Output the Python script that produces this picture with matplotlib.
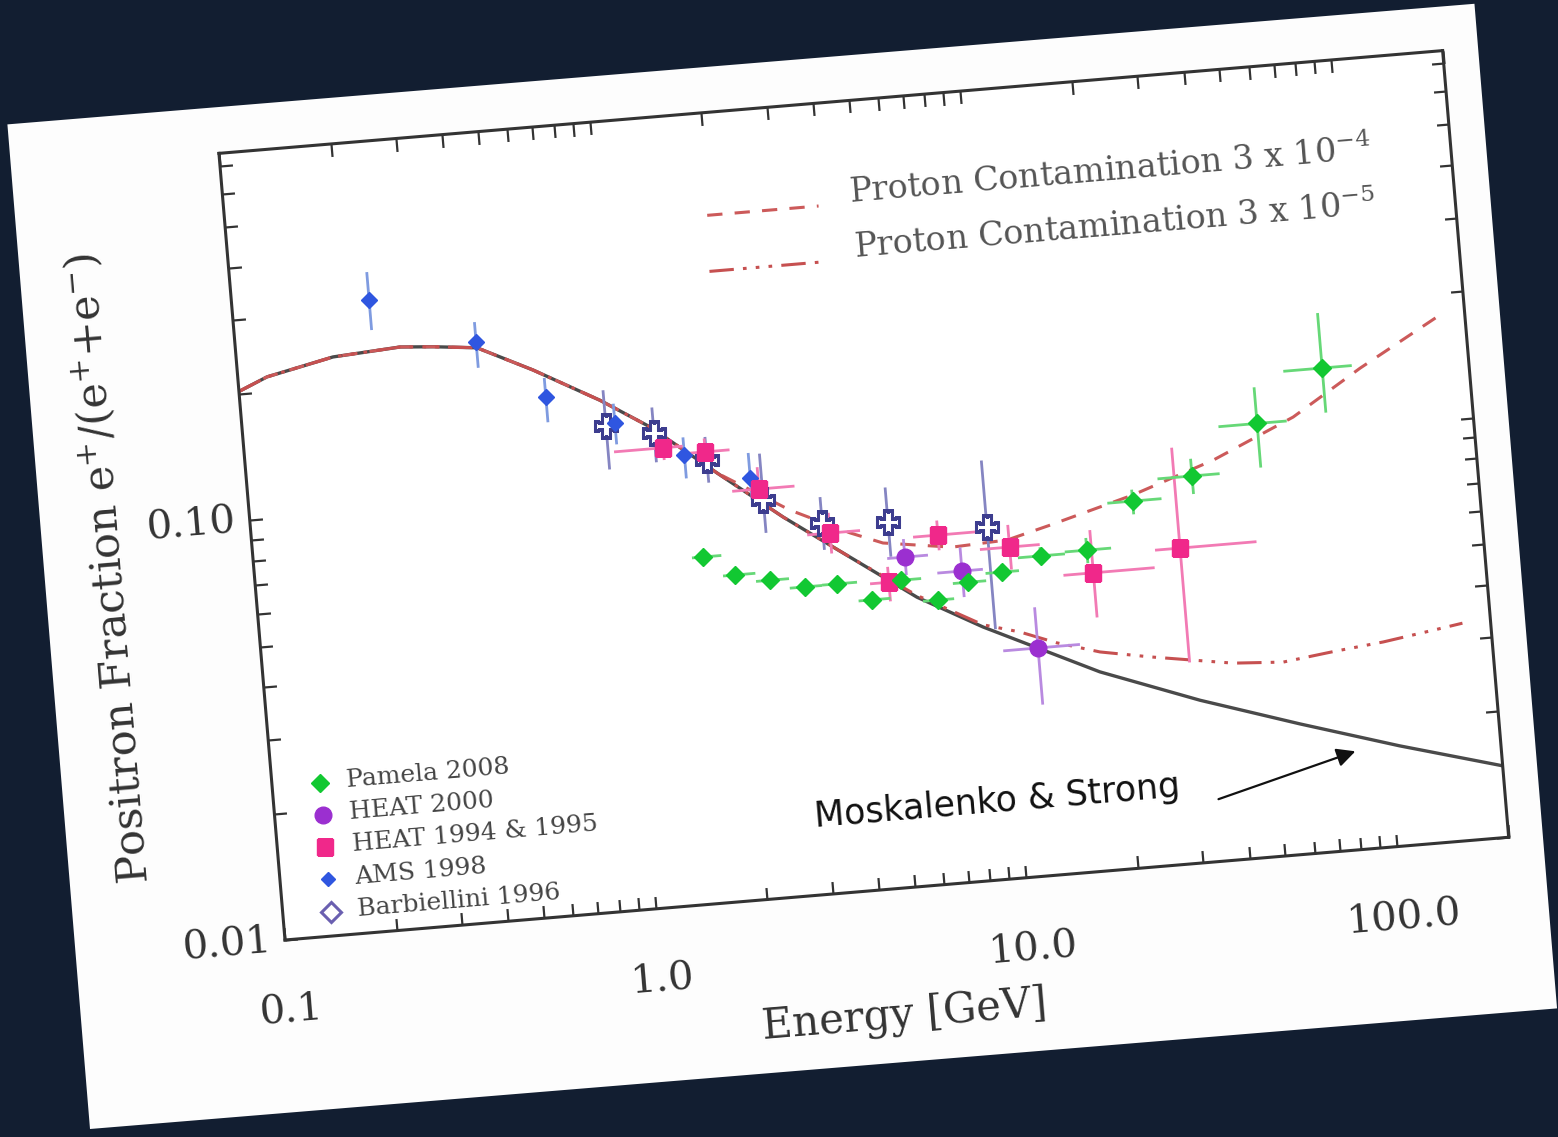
import matplotlib.pyplot as plt
import numpy as np
from matplotlib.patches import Rectangle
from matplotlib.scale import LogTransform
from matplotlib.transforms import Affine2D, blended_transform_factory
import mpl_toolkits.axisartist.floating_axes as floating_axes
from mpl_toolkits.axisartist.grid_finder import FixedLocator, DictFormatter

plt.rcParams['mathtext.fontset'] = 'dejavuserif'

# --- data ----------------------------------------------------------------
# Moskalenko & Strong model (solid)
model_e = [0.1, 0.1198, 0.1818, 0.2764, 0.339, 0.444, 0.620, 0.923, 1.24,
           1.83, 2.69, 3.98, 5.89, 8.72, 17.5, 32.0, 58.6, 107, 200]
model_f = [0.203, 0.217, 0.2347, 0.2403, 0.237, 0.231, 0.1995, 0.164, 0.1386,
           0.1046, 0.0798, 0.0622, 0.0485, 0.040, 0.0297, 0.0243, 0.0204,
           0.0173, 0.0148]

# proton contamination 3e-4 (dashed)
p4_e = [0.1, 0.1198, 0.1818, 0.2764, 0.339, 0.444, 0.620, 0.923, 1.24, 1.83,
        2.81, 4.03, 4.91, 7.50, 10.6, 13.9, 23.5, 39.3, 65.8, 102, 172]
p4_f = [0.203, 0.217, 0.2347, 0.2403, 0.237, 0.231, 0.1995, 0.164, 0.1386,
        0.1046, 0.0827, 0.0710, 0.0662, 0.0627, 0.0636, 0.0676, 0.0767,
        0.0894, 0.109, 0.138, 0.178]

# proton contamination 3e-5 (dash-dot-dot)
p5_e = [0.1, 0.1198, 0.1818, 0.2764, 0.339, 0.444, 0.620, 0.923, 1.24, 1.83,
        2.69, 3.98, 5.89, 8.72, 10.9, 13.6, 17.7, 24.0, 40.0, 54.5, 74.5,
        102, 140, 168]
p5_f = [0.203, 0.217, 0.2347, 0.2403, 0.237, 0.231, 0.1995, 0.164, 0.1386,
        0.1046, 0.0798, 0.0622, 0.0490, 0.0405, 0.0383, 0.0355, 0.0331,
        0.0315, 0.0293, 0.0288, 0.0298, 0.0307, 0.0320, 0.0328]

# Pamela 2008
pam_e = [1.61, 1.94, 2.40, 2.97, 3.62, 4.46, 5.38, 6.69, 8.13, 10.1, 12.9,
         17.2, 23.4, 34.2, 52.5, 80.7]
pam_elo = [1.5, 1.8, 2.2, 2.7, 3.3, 4.1, 5.0, 6.1, 7.4, 9.1, 11.2, 15, 20,
           27.6, 41.3, 63.4]
pam_ehi = [1.8, 2.2, 2.7, 3.3, 4.1, 5.0, 6.1, 7.4, 9.1, 11.2, 15, 20, 28,
           40.6, 63.1, 97]
pam_f = [0.0666, 0.0595, 0.0569, 0.0540, 0.0541, 0.0488, 0.0536, 0.0473,
         0.0514, 0.0535, 0.0574, 0.0580, 0.0742, 0.0828, 0.107, 0.1405]
pam_flo = [0.0650, 0.0583, 0.0556, 0.0527, 0.0527, 0.0474, 0.0520, 0.0457,
           0.0494, 0.0512, 0.0546, 0.054, 0.069, 0.075, 0.084, 0.110]
pam_fhi = [0.0682, 0.0607, 0.0582, 0.0553, 0.0555, 0.0502, 0.0552, 0.0489,
           0.0534, 0.0558, 0.0602, 0.062, 0.079, 0.091, 0.1305, 0.190]

# HEAT 2000
h00_e = [5.58, 7.88, 12.1]
h00_elo = [5.0, 6.76, 9.75]
h00_ehi = [6.44, 8.97, 15.7]
h00_f = [0.0607, 0.0548, 0.0348]
h00_flo = [0.055, 0.0475, 0.0255]
h00_fhi = [0.067, 0.0624, 0.0435]

# HEAT 1994 & 1995
h94_e = [1.33, 1.72, 2.35, 3.56, 4.99, 6.92, 10.7, 17.7, 30.6]
h94_elo = [0.98, 1.5, 1.99, 3.09, 4.44, 5.93, 8.9, 14.7, 26.2]
h94_ehi = [1.5, 2.0, 2.93, 4.29, 5.69, 8.81, 12.9, 25.9, 49.2]
h94_f = [0.123, 0.118, 0.094, 0.0716, 0.0533, 0.0674, 0.0611, 0.0511, 0.0562]
h94_flo = [0.115, 0.110, 0.083, 0.064, 0.048, 0.062, 0.054, 0.040, 0.030]
h94_fhi = [0.131, 0.127, 0.106, 0.080, 0.058, 0.073, 0.069, 0.0646, 0.0975]

# AMS 1998
ams_e = [0.234, 0.443, 0.662, 1.0, 1.51, 2.24]
ams_f = [0.315, 0.238, 0.171, 0.144, 0.117, 0.100]
ams_flo = [0.267, 0.207, 0.149, 0.128, 0.103, 0.089]
ams_fhi = [0.367, 0.266, 0.190, 0.160, 0.129, 0.115]

# Barbiellini 1996
bar_e = [0.945, 1.266, 1.73, 2.40, 3.41, 5.12, 9.4]
bar_f = [0.142, 0.134, 0.1127, 0.0884, 0.0758, 0.0740, 0.0689]
bar_flo = [0.112, 0.114, 0.0996, 0.0738, 0.0655, 0.0612, 0.0393]
bar_fhi = [0.173, 0.154, 0.128, 0.114, 0.0875, 0.0895, 0.0992]

x_labels = {0.1: '0.1', 1.0: '1.0', 10.0: '10.0', 100.0: '100.0'}
y_labels = {0.01: '0.01', 0.1: '0.10'}

# --- geometry of the tilted photo ------------------------------------------
TILT = 4.8                 # degrees, counter-clockwise
X_DEC, Y_DEC = 372, 421    # pixels per decade
X_RANGE = (0.1, 200)
Y_RANGE = (0.01, 0.75)
W, H = 1558, 1137
ORIGIN = (285, 940)        # lower-left corner of the frame, image pixels

ang = np.deg2rad(TILT)
lx = np.log10(X_RANGE[1] / X_RANGE[0]) * X_DEC
ly = np.log10(Y_RANGE[1] / Y_RANGE[0]) * Y_DEC
bw = lx * np.cos(ang) + ly * np.sin(ang)
bh = lx * np.sin(ang) + ly * np.cos(ang)
cx = ORIGIN[0] - ly * np.sin(ang) + bw / 2
cy = ORIGIN[1] - bh / 2
rect = [(cx - 0.51 * bw) / W, 1 - (cy + 0.51 * bh) / H, 1.02 * bw / W, 1.02 * bh / H]

fig = plt.figure(figsize=(W / 100, H / 100), dpi=100, facecolor='#121e31')
card = Rectangle((0.90, 0.08), 14.72, 10.08, angle=4.7,
                 transform=fig.dpi_scale_trans, facecolor='#fdfdfd',
                 edgecolor='none', zorder=-5)
fig.add_artist(card)

log_tr = blended_transform_factory(LogTransform(10), LogTransform(10))
rot = Affine2D().scale(X_DEC, Y_DEC).rotate_deg(TILT)
tr = log_tr + rot

x_ticks = [m * 10.0 ** k for k in range(-1, 3) for m in range(1, 10)]
x_ticks = [t for t in x_ticks if t <= X_RANGE[1]]
y_ticks = [m * 10.0 ** k for k in (-2, -1) for m in range(1, 10)]
y_ticks = [t for t in y_ticks if t <= Y_RANGE[1]]

gh = floating_axes.GridHelperCurveLinear(
    tr, extremes=(*X_RANGE, *Y_RANGE),
    grid_locator1=FixedLocator(x_ticks), grid_locator2=FixedLocator(y_ticks),
    tick_formatter1=DictFormatter(x_labels),
    tick_formatter2=DictFormatter(y_labels))
ax = fig.add_axes(rect, axes_class=floating_axes.FloatingAxes, grid_helper=gh)
ax.patch.set_facecolor('white')
ax.patch.zorder = 0.9

for side in ('left', 'right', 'top', 'bottom'):
    a = ax.axis[side]
    a.line.set_linewidth(2.2)
    a.line.set_color('#333333')
    a.major_ticks.set_ticksize(9)
    a.major_ticks.set_color('#333333')
    a.major_ticks.set_markeredgewidth(1.6)
    a.label.set_visible(False)

for side in ('left', 'bottom'):
    tl = ax.axis[side].major_ticklabels
    tl.set_fontsize(29)
    tl.set_family('DejaVu Serif')
    tl.set_color('#333333')
ax.axis['bottom'].major_ticklabels.set_pad(38)
ax.axis['left'].major_ticklabels.set_pad(10)

aux = ax.get_aux_axes(tr)
aux.patch = ax.patch

# curves
aux.plot(model_e, model_f, color='#4a4a4a', lw=2.4, zorder=1.5)
aux.plot(p4_e, p4_f, color='#cc5a5a', lw=2.2, ls=(0, (5, 4)), zorder=1.6)
aux.plot(p5_e, p5_f, color='#c65050', lw=2.2,
         ls=(0, (8, 3, 1.2, 3, 1.2, 3, 1.2, 3)), zorder=1.6)


def draw_set(e, f, flo, fhi, elo=None, ehi=None, **kw):
    e = np.asarray(e)
    f = np.asarray(f)
    yerr = [f - np.asarray(flo), np.asarray(fhi) - f]
    xerr = None
    if elo is not None:
        xerr = [e - np.asarray(elo), np.asarray(ehi) - e]
    aux.errorbar(e, f, xerr=xerr, yerr=yerr, capsize=0, zorder=3, **kw)


draw_set(bar_e, bar_f, bar_flo, bar_fhi, fmt='P', ms=16, mfc='white',
         mec='#3d3d8f', mew=2.2, ecolor='#8585c2', elinewidth=2)
draw_set(ams_e, ams_f, ams_flo, ams_fhi, fmt='D', ms=8, color='#2f56e0',
         ecolor='#7f9be0', elinewidth=2)
draw_set(h94_e, h94_f, h94_flo, h94_fhi, h94_elo, h94_ehi, fmt='s', ms=11,
         color='#f0288a', ecolor='#f27ab4', elinewidth=2)
draw_set(h00_e, h00_f, h00_flo, h00_fhi, h00_elo, h00_ehi, fmt='o', ms=12,
         color='#9b2fd0', ecolor='#b98ae0', elinewidth=2)
draw_set(pam_e, pam_f, pam_flo, pam_fhi, pam_elo, pam_ehi, fmt='D', ms=9,
         color='#12c832', ecolor='#66d877', elinewidth=2)

# coordinates as a fraction of the tilted frame (for labels and legends)
frac_tr = (Affine2D().scale(np.log10(X_RANGE[1] / X_RANGE[0]),
                            np.log10(Y_RANGE[1] / Y_RANGE[0]))
           .translate(np.log10(X_RANGE[0]), np.log10(Y_RANGE[0]))
           + rot + ax.transData)

# axis titles
aux.text(0.498, -0.160, 'Energy [GeV]', transform=frac_tr, rotation=TILT,
         rotation_mode='anchor', ha='center', va='center', fontsize=30,
         family='DejaVu Serif', color='#333333')
aux.text(-0.118, 0.488, 'Positron Fraction e$^{+}$/(e$^{+}$+e$^{-}$)',
         transform=frac_tr, rotation=90 + TILT, rotation_mode='anchor',
         ha='center', va='center', fontsize=31, family='DejaVu Serif',
         color='#333333')

# lower-left legend
legend_items = [
    ('Pamela 2008', dict(marker='D', ms=9, color='#12c832')),
    ('HEAT 2000', dict(marker='o', ms=12, color='#9b2fd0')),
    ('HEAT 1994 & 1995', dict(marker='s', ms=11, color='#f0288a')),
    ('AMS 1998', dict(marker='D', ms=7, color='#2f56e0')),
    ('Barbiellini 1996', dict(marker='D', ms=10, mfc='white', mec='#6a5fb0', mew=2.2)),
]
for i, (name, style) in enumerate(legend_items):
    fy = 0.195 - 0.041 * i
    aux.plot([0.039], [fy], ls='none', transform=frac_tr, zorder=4, **style)
    aux.text(0.061, fy, name, transform=frac_tr, rotation=TILT,
             rotation_mode='anchor', va='center', ha='left', fontsize=18,
             family='DejaVu Serif', color='#444444')

# upper legend for the contamination curves
aux.plot([0.392, 0.483], [0.870, 0.870], transform=frac_tr, color='#cc5a5a',
         lw=2.2, ls=(0, (5, 4)))
aux.plot([0.390, 0.483], [0.799, 0.799], transform=frac_tr, color='#c65050',
         lw=2.2, ls=(0, (8, 3, 1.2, 3, 1.2, 3, 1.2, 3)))
aux.text(0.509, 0.871, 'Proton Contamination 3 x 10$^{-4}$', transform=frac_tr,
         rotation=TILT, rotation_mode='anchor', va='baseline', ha='left',
         fontsize=24, family='DejaVu Serif', color='#555555')
aux.text(0.509, 0.801, 'Proton Contamination 3 x 10$^{-5}$', transform=frac_tr,
         rotation=TILT, rotation_mode='anchor', va='baseline', ha='left',
         fontsize=24, family='DejaVu Serif', color='#555555')

# model annotation
aux.text(2.8, 0.0145, 'Moskalenko & Strong', rotation=TILT,
         rotation_mode='anchor', ha='left', va='baseline', fontsize=25,
         family='DejaVu Sans', color='#111111')
aux.annotate('', xy=(82.6, 0.0172), xytext=(33.5, 0.0140),
             arrowprops=dict(arrowstyle='-|>', color='#111111', lw=1.6,
                             mutation_scale=28))

fig.savefig('out.png', dpi=100, facecolor=fig.get_facecolor())
